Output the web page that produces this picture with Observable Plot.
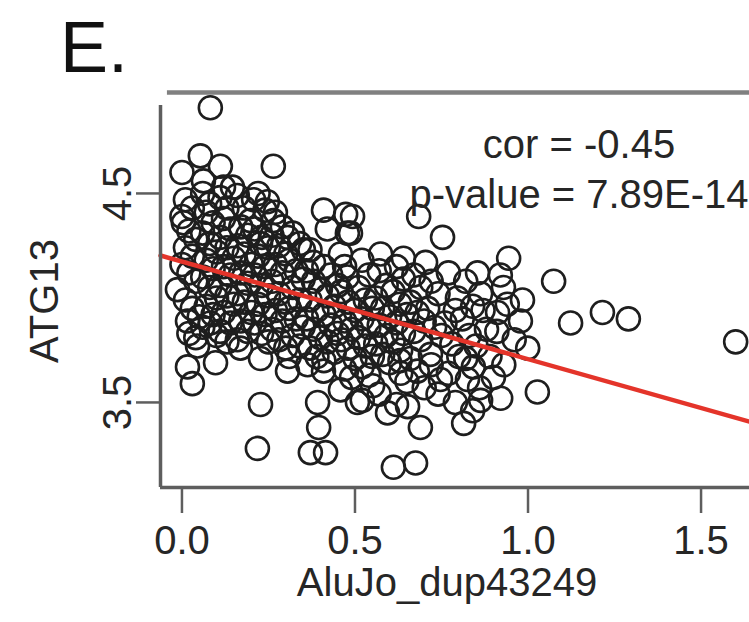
<!DOCTYPE html>
<html><head><meta charset="utf-8">
<script src="https://cdn.jsdelivr.net/npm/d3@7"></script>
<script src="https://cdn.jsdelivr.net/npm/@observablehq/plot@0.6"></script>
<style>
body{margin:0;background:#fff;}
#wrap{position:relative;width:749px;height:622px;overflow:hidden;}
#title{position:absolute;left:60px;top:11px;font:72px/1 "Liberation Sans",Arial,sans-serif;color:#111;}
svg{display:block;}
</style></head><body>
<div id="wrap"></div>
<script>
// ---- data ----
const panelTitle = "E.";
const xLabel = "AluJo_dup43249";
const yLabel = "ATG13";
const statLines = ["cor = -0.45", "p-value = 7.89E-14"];
const xTicks = [0, 0.5, 1.0, 1.5];
const yTicks = [3.5, 4.5];
const xDomain = [-0.062, 1.640];
const yDomain = [3.093, 4.983];
const fitIntercept = 4.174;
const fitSlope = -0.467;
// [AluJo_dup43249, ATG13]
const samples = [
[0.082,4.91],[0.053,4.68],[0.111,4.63],[0.00,4.60],[0.062,4.56],[0.146,4.53],[0.264,4.63],[0.207,4.47],[0.247,4.46],
[0.198,4.37],[0.264,4.37],[0.305,4.29],[0.351,4.23],[0.380,4.17],[0.409,4.42],[0.473,4.40],[0.478,4.31],[0.458,4.21],
[0.478,4.10],[0.227,4.26],[-0.013,4.04],[0.004,4.36],[0.684,4.39],[0.753,4.29],[0.493,4.39],[0.944,4.19],[1.074,4.08],
[1.123,3.88],[1.215,3.93],[1.290,3.90],[1.600,3.79],[0.574,4.21],[0.640,4.19],[0.704,4.17],[0.854,4.12],[0.929,4.05],
[0.984,3.99],[0.978,3.89],[0.796,4.00],[0.863,4.02],[0.912,3.93],[0.999,3.76],[0.487,4.31],
[0.016,3.67],[0.030,3.59],[0.097,3.69],[0.045,3.77],[0.227,3.49],[0.218,3.28],[0.392,3.50],[0.395,3.38],[0.371,3.26],
[0.415,3.26],[0.458,3.56],[0.507,3.50],[0.305,3.65],[0.227,3.71],[0.169,3.76],[0.409,3.65],[0.363,3.68],[0.016,3.89],
[0.082,3.88],[0.611,3.19],[0.675,3.21],[0.689,3.38],[0.814,3.40],[0.921,3.52],[1.027,3.55],[0.863,3.51],[0.521,3.51],
[0.594,3.45],[0.652,3.48],[0.747,3.61],[0.825,3.61],[0.842,3.67],[0.900,3.62],[0.551,3.58],[0.632,3.64],[0.718,3.73],[0.632,3.75],
[0.01,4.47],[0.03,4.43],[0.00,4.39],[0.02,4.32],[0.04,4.28],[0.01,4.24],[0.03,4.20],[0.00,4.16],[0.02,4.12],[0.04,4.08],[0.01,3.99],[0.03,3.95],[0.05,3.91],[0.02,3.83],[0.04,3.81],
[0.06,4.50],[0.08,4.45],[0.07,4.41],[0.09,4.36],[0.06,4.31],[0.08,4.26],[0.10,4.22],[0.07,4.18],[0.09,4.14],[0.06,4.10],[0.08,4.05],[0.10,4.00],[0.07,3.96],[0.09,3.92],[0.06,3.86],[0.10,3.82],
[0.12,4.53],[0.11,4.48],[0.13,4.43],[0.12,4.38],[0.14,4.33],[0.11,4.29],[0.13,4.24],[0.15,4.19],[0.12,4.15],[0.14,4.11],[0.11,4.06],[0.13,4.01],[0.15,3.97],[0.12,3.93],[0.14,3.88],[0.11,3.84],[0.13,3.79],
[0.16,4.49],[0.18,4.43],[0.17,4.34],[0.19,4.30],[0.16,4.25],[0.18,4.21],[0.20,4.16],[0.17,4.12],[0.19,4.07],[0.16,4.02],[0.18,3.98],[0.20,3.93],[0.17,3.89],[0.19,3.84],[0.16,3.80],
[0.22,4.50],[0.24,4.42],[0.21,4.33],[0.23,4.29],[0.25,4.24],[0.22,4.20],[0.24,4.15],[0.21,4.11],[0.23,4.06],[0.25,4.01],[0.22,3.97],[0.24,3.92],[0.21,3.88],[0.23,3.83],[0.25,3.79],
[0.27,4.41],[0.29,4.34],[0.26,4.30],[0.28,4.25],[0.30,4.21],[0.27,4.16],[0.29,4.12],[0.26,4.08],[0.28,4.02],[0.30,3.98],[0.27,3.94],[0.29,3.89],[0.26,3.85],[0.28,3.80],[0.30,3.76],
[0.32,4.31],[0.34,4.26],[0.31,4.18],[0.33,4.13],[0.35,4.09],[0.32,4.05],[0.34,3.99],[0.31,3.95],[0.33,3.90],[0.35,3.86],[0.32,3.82],[0.34,3.77],[0.31,3.72],
[0.37,4.23],[0.36,4.13],[0.38,4.08],[0.40,4.04],[0.37,3.99],[0.39,3.94],[0.36,3.90],[0.38,3.85],[0.40,3.81],[0.37,3.76],[0.39,3.72],
[0.42,4.33],[0.41,4.15],[0.43,4.11],[0.45,4.06],[0.42,4.01],[0.44,3.96],[0.41,3.92],[0.43,3.87],[0.45,3.83],[0.42,3.79],[0.44,3.74],[0.41,3.70],
[0.47,4.15],[0.46,4.03],[0.48,3.98],[0.50,3.94],[0.47,3.89],[0.49,3.85],[0.46,3.80],[0.48,3.76],[0.50,3.71],[0.47,3.66],[0.49,3.62],
[0.52,4.18],[0.54,4.11],[0.51,4.05],[0.53,3.99],[0.55,3.95],[0.52,3.90],[0.54,3.86],[0.51,3.81],[0.53,3.77],[0.55,3.72],[0.52,3.67],[0.54,3.63],
[0.57,4.13],[0.59,4.06],[0.56,4.00],[0.58,3.95],[0.60,3.91],[0.57,3.87],[0.59,3.82],[0.56,3.78],[0.58,3.73],[0.60,3.69],[0.57,3.54],
[0.62,4.15],[0.64,4.09],[0.61,4.03],[0.63,3.97],[0.65,3.92],[0.62,3.88],[0.64,3.83],[0.61,3.79],[0.63,3.70],[0.65,3.60],[0.62,3.49],
[0.67,4.11],[0.69,4.05],[0.66,3.98],[0.68,3.93],[0.70,3.89],[0.67,3.84],[0.69,3.80],[0.66,3.71],[0.68,3.65],[0.70,3.57],
[0.72,4.08],[0.74,4.02],[0.71,3.95],[0.73,3.86],[0.75,3.82],[0.72,3.68],[0.74,3.54],
[0.77,4.12],[0.79,3.94],[0.76,3.88],[0.78,3.78],[0.80,3.72],[0.77,3.64],[0.79,3.50],
[0.82,4.08],[0.84,3.96],[0.81,3.90],[0.83,3.82],[0.85,3.77],[0.82,3.71],[0.86,3.57],[0.88,3.85],[0.87,3.94],[0.89,3.72],[0.84,3.46],
[0.92,4.11],[0.94,3.97],[0.91,3.84],[0.96,3.80],[0.93,3.68]
];

// ---- chart ----
const fitLine = xDomain.map(x => ({x, y: fitIntercept + fitSlope * x}));
const font = '"Liberation Sans", Arial, Helvetica, sans-serif';
const ink = "#262626";
const axisGray = "#5e5e5e";

const chart = Plot.plot({
  width: 749, height: 622,
  marginLeft: 160, marginRight: 0, marginTop: 92, marginBottom: 135,
  x: {domain: xDomain},
  y: {domain: yDomain},
  style: {fontFamily: font, fontSize: "40px", color: ink, background: "transparent"},
  marks: [
    Plot.dot(samples, {x: d => d[0], y: d => d[1], r: 11.5, stroke: "#1e1e1e", strokeWidth: 2.6, fill: "none"}),
    Plot.line(fitLine, {x: "x", y: "y", stroke: "#e4342a", strokeWidth: 4.5}),
    // frame pieces
    Plot.ruleY([yDomain[0]], {x1: xDomain[0], x2: xDomain[1], stroke: axisGray, strokeWidth: 3.5}),
    Plot.ruleX([xDomain[0]], {y1: yDomain[0], y2: 4.921, stroke: axisGray, strokeWidth: 3.5}),
    Plot.ruleY([yDomain[1]], {x1: -0.042, x2: xDomain[1], stroke: "#808080", strokeWidth: 4.5}),
    // axes
    Plot.axisX({ticks: xTicks, tickSize: 26, tickPadding: 12, tickFormat: d3.format(".1f"),
      fontSize: 40, stroke: axisGray, strokeWidth: 2.5, fill: ink, label: null}),
    Plot.axisY({ticks: yTicks, tickSize: 24, tickFormat: () => "", stroke: axisGray, strokeWidth: 2.5, label: null}),
    Plot.text(yTicks, {x: xDomain[0], y: d => d, text: d => d.toFixed(1), rotate: -90, dx: -42,
      fontSize: 40, fill: ink, textAnchor: "middle"}),
    Plot.text([yLabel], {frameAnchor: "left", rotate: -90, dx: -115, dy: 11, fontSize: 40, fill: ink, textAnchor: "middle"}),
    Plot.text([xLabel], {frameAnchor: "bottom", dx: -8, dy: 108, fontSize: 40, fill: ink, textAnchor: "middle"}),
    Plot.text([statLines[0]], {frameAnchor: "top-left", dx: 418.5, dy: 37, fontSize: 40, fill: ink, textAnchor: "middle"}),
    Plot.text([statLines[1]], {frameAnchor: "top-left", dx: 418.5, dy: 87, fontSize: 40, fill: ink, textAnchor: "middle"})
  ]
});
const wrap = document.getElementById("wrap");
wrap.appendChild(chart);
const t = document.createElement("div");
t.id = "title";
t.textContent = panelTitle;
wrap.appendChild(t);
</script>
</body></html>
